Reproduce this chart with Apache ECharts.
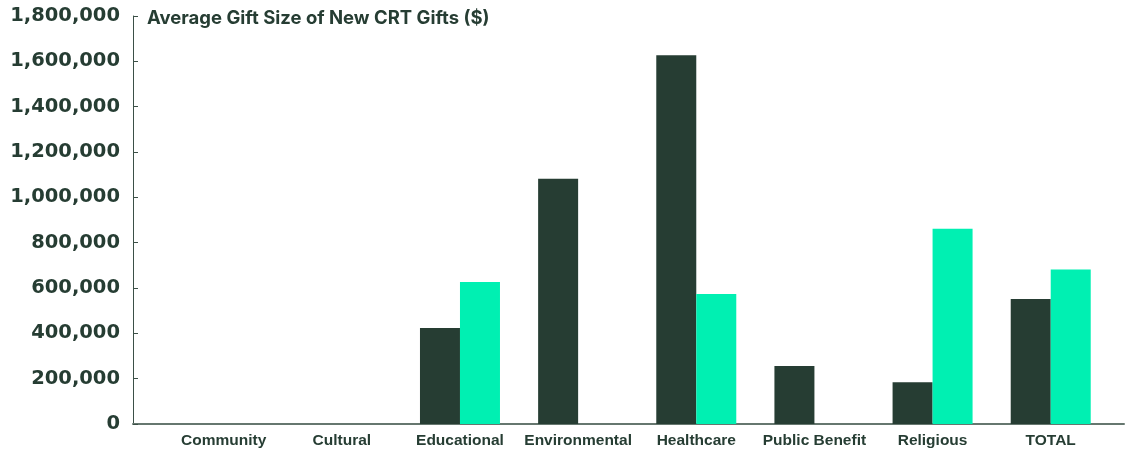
<!DOCTYPE html>
<html>
<head>
<meta charset="utf-8">
<script src="https://cdn.jsdelivr.net/npm/echarts@6/dist/echarts.min.js"></script>
<style>
  html, body { margin: 0; padding: 0; background: #ffffff; }
  #chart { width: 1131px; height: 453px; }
</style>
</head>
<body>
<div id="chart"></div>
<script>
const titleText = 'Average Gift Size of New CRT Gifts ($)';
const categories = ['Community', 'Cultural', 'Educational', 'Environmental', 'Healthcare', 'Public Benefit', 'Religious', 'TOTAL'];
const seriesDark = [null, null, 423000, 1082000, 1627000, 256000, 184000, 552000];
const seriesTeal = [null, null, 626000, null, 574000, null, 861000, 682000];
const yTicks = { min: 0, max: 1800000, interval: 200000 };

const dark = '#263d33';
const teal = '#00f0b2';

const chart = echarts.init(document.getElementById('chart'), null, { renderer: 'canvas' });
chart.setOption({
  backgroundColor: '#ffffff',
  animation: false,
  title: {
    text: titleText,
    left: 142, top: 4,
    textStyle: { color: dark, fontSize: 18.5, fontWeight: 'bold', fontFamily: 'Inter' }
  },
  grid: [
    { left: 133, right: 7, top: 16, bottom: 29, containLabel: false },
    { left: 164.6, right: 21.2, top: 16, bottom: 29, containLabel: false }
  ],
  xAxis: [
    { gridIndex: 0, type: 'value', min: 0, max: 1,
      axisLine: { show: true, onZero: false, lineStyle: { color: '#66776f', width: 2 } },
      axisTick: { show: false }, axisLabel: { show: false }, splitLine: { show: false } },
    { gridIndex: 1, type: 'category', data: categories,
      axisLine: { show: false }, axisTick: { show: false }, splitLine: { show: false },
      axisLabel: { color: dark, fontSize: 15.5, fontWeight: 'bold', fontFamily: 'Liberation Sans', margin: 9, interval: 0 } }
  ],
  yAxis: [
    { gridIndex: 0, type: 'value', min: yTicks.min, max: yTicks.max, interval: yTicks.interval,
      axisLine: { show: true, lineStyle: { color: '#3b5047', width: 1 } },
      axisTick: { show: true, inside: true, length: 5, lineStyle: { color: '#3b5047' } },
      splitLine: { show: false },
      axisLabel: { color: dark, fontSize: 19.5, fontWeight: 'bold', fontFamily: 'DejaVu Sans', margin: 13,
        formatter: v => v.toLocaleString('en-US') } },
    { gridIndex: 1, type: 'value', min: yTicks.min, max: yTicks.max, interval: yTicks.interval, show: false }
  ],
  series: [
    { name: 'Dark', type: 'bar', xAxisIndex: 1, yAxisIndex: 1, data: seriesDark,
      barWidth: 40, barGap: '0%', itemStyle: { color: dark } },
    { name: 'Teal', type: 'bar', xAxisIndex: 1, yAxisIndex: 1, data: seriesTeal,
      barWidth: 40, barGap: '0%', itemStyle: { color: teal } }
  ]
});
</script>
</body>
</html>
